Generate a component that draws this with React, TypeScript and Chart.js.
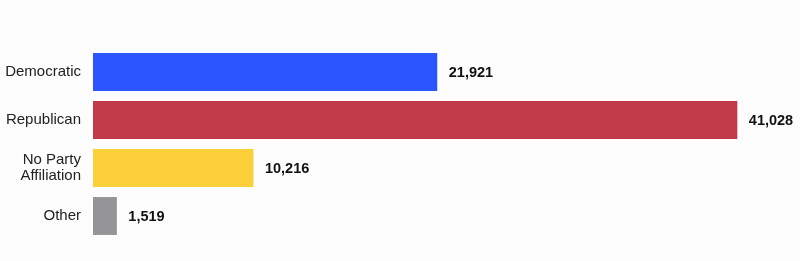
import React, { useEffect, useRef } from "react";
import { Chart, registerables } from "chart.js";

Chart.register(...registerables);

const categories: (string | string[])[] = ["Democratic", "Republican", ["No Party", "Affiliation"], "Other"];
const values: number[] = [21921, 41028, 10216, 1519];
const colors: string[] = ["#2b55ff", "#c13a49", "#fcd039", "#949497"];

const valueLabels = {
  id: "valueLabels",
  afterDatasetsDraw(chart: any) {
    const ctx = chart.ctx;
    const meta = chart.getDatasetMeta(0);
    ctx.save();
    ctx.font = "bold 14.5px 'Liberation Sans', Arial, sans-serif";
    ctx.fillStyle = "#111";
    ctx.textAlign = "left";
    ctx.textBaseline = "middle";
    meta.data.forEach((bar: any, i: number) => {
      ctx.fillText(values[i].toLocaleString("en-US"), bar.x + 11.5, bar.y + 1);
    });
    ctx.restore();
  },
};

const bgPlugin = {
  id: "bg",
  beforeDraw(chart: any) {
    const ctx = chart.ctx;
    ctx.save();
    ctx.fillStyle = "#fdfdfd";
    ctx.fillRect(0, 0, chart.width, chart.height);
    ctx.restore();
  },
};

export default function App() {
  const ref = useRef<HTMLCanvasElement>(null);
  useEffect(() => {
    if (!ref.current) return;
    const chart = new Chart(ref.current, {
      type: "bar",
      data: {
        labels: categories as any,
        datasets: [
          {
            data: values,
            backgroundColor: colors,
            borderWidth: 0,
            barPercentage: 0.79,
            categoryPercentage: 1,
          },
        ],
      },
      options: {
        indexAxis: "y",
        animation: false,
        responsive: false,
        maintainAspectRatio: false,
        layout: { padding: { left: 0, right: 16, top: 48, bottom: 21 } },
        plugins: { legend: { display: false }, tooltip: { enabled: false } },
        scales: {
          x: {
            display: false,
            min: 0,
            max: 44000,
          },
          y: {
            grid: { display: false, drawTicks: false },
            border: { display: false },
            ticks: {
              padding: 12,
              color: "#222",
              font: { family: "'Liberation Sans', Arial, sans-serif", size: 15, lineHeight: 1.05 },
            },
            afterFit(scale: any) {
              scale.width = 93;
            },
          },
        },
      },
      plugins: [bgPlugin, valueLabels],
    });
    return () => chart.destroy();
  }, []);
  return (
    <div style={{ position: "fixed", left: 0, top: 0, width: 800, height: 261 }}>
      <canvas ref={ref} width={800} height={261} style={{ display: "block" }} />
    </div>
  );
}
